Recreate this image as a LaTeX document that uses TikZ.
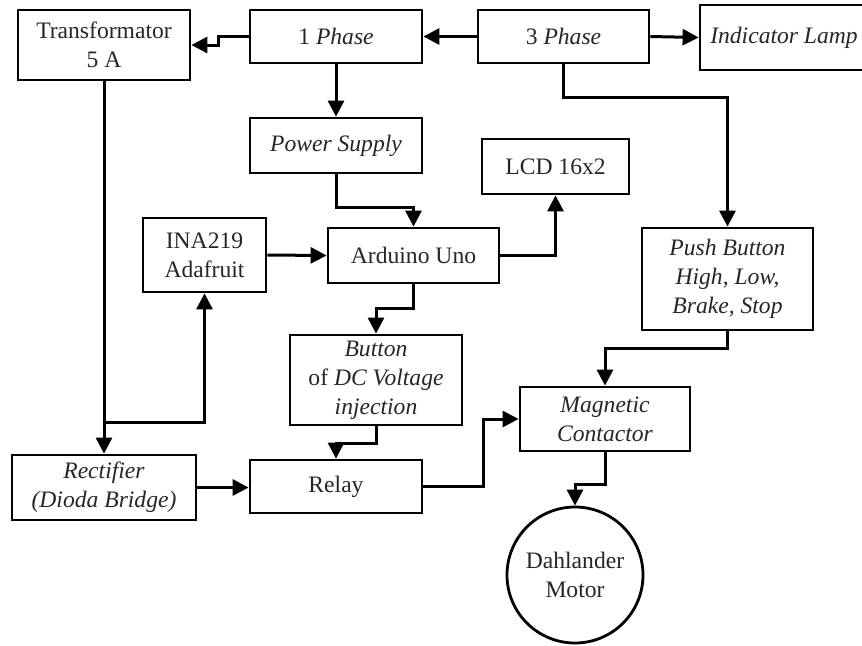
\documentclass[tikz,border=0pt]{standalone}
\usepackage{fontspec}
\setmainfont{Liberation Serif}
\usetikzlibrary{arrows.meta}
\begin{document}
\begin{tikzpicture}[x=0.5pt,y=-0.5pt,
  box/.style={draw=black,line width=1.4pt,rectangle,inner sep=0pt,align=center,
    text=black!85,font=\fontsize{11.8}{14.5}\selectfont},
  arr/.style={line width=1.5pt,-{Triangle[length=8pt,width=8pt]}},
  ln/.style={line width=1.5pt}]
\useasboundingbox (0,0) rectangle (862,645);
\begin{scope}
\clip (0,0) rectangle (862,645);
\node[box,minimum width=86pt,minimum height=35pt] (trans) at (104,45) {Transformator\\5 A};
\node[box,minimum width=86pt,minimum height=26.5pt] (p1) at (336,36.5) {1 \textit{Phase}};
\node[box,minimum width=85.5pt,minimum height=26.5pt] (p3) at (563.5,36.5) {3 \textit{Phase}};
\node[box,minimum width=84pt,minimum height=32.5pt] (lamp) at (784,37.5) {\textit{Indicator Lamp}};
\node[box,minimum width=86pt,minimum height=27.5pt] (ps) at (336,145.5) {\textit{Power Supply}};
\node[box,minimum width=73.5pt,minimum height=27.5pt] (lcd) at (555.5,166.5) {LCD 16x2};
\node[box,minimum width=61.5pt,minimum height=37pt] (ina) at (204.5,255) {INA219\\Adafruit};
\node[box,minimum width=85.5pt,minimum height=27.5pt] (ard) at (413.5,255.5) {Arduino Uno};
\node[box,minimum width=85.5pt,minimum height=51pt] (push) at (727.5,279) {\textit{Push Button}\\\textit{High, Low,}\\\textit{Brake, Stop}};
\node[box,minimum width=86pt,minimum height=45pt] (btn) at (376,380) {\textit{Button}\\of \textit{DC Voltage}\\\textit{injection}};
\node[box,minimum width=85pt,minimum height=32pt] (mag) at (605,419) {\textit{Magnetic}\\\textit{Contactor}};
\node[box,minimum width=92pt,minimum height=32.5pt] (rect) at (104,487.5) {\textit{Rectifier}\\\textit{(Dioda Bridge)}};
\node[box,minimum width=86pt,minimum height=26.5pt] (relay) at (336,486.5) {Relay};
\node[box,circle,minimum size=68pt] (motor) at (575,575) {Dahlander\\Motor};

\draw[arr] (p1.west) -- (218,36.5) |- (trans.east);
\draw[arr] (p3.west) -- (p1.east);
\draw[arr] (p3.east) -- (lamp.west);
\draw[arr] (p3.south) |- (727.5,97) -- (push.north);
\draw[arr] (p1.south) -- (ps.north);
\draw[arr] (ps.south) |- (413.5,207) -- (ard.north);
\draw[arr] (ina.east) -- (ard.west);
\draw[arr] (ard.east) -| (lcd.south);
\draw[arr] (ard.south) |- (376,308) -- (btn.north);
\draw[arr] (btn.south) |- (336,443) -- (relay.north);
\draw[arr] (trans.south) -- (rect.north);
\draw[arr] (104,422) -| (ina.south);
\draw[arr] (rect.east) -- (rect.east -| relay.west);
\draw[arr] (relay.east) -- (483,486.5) |- (mag.west);
\draw[arr] (push.south) |- (605,348) -- (mag.north);
\draw[arr] (mag.south) |- (575,484) -- (motor.north);
\end{scope}
\end{tikzpicture}
\end{document}
